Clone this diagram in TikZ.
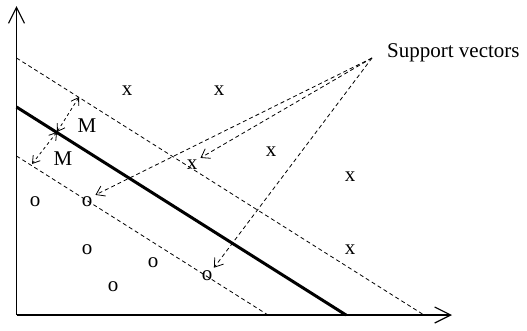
\documentclass[tikz,border=0pt]{standalone}
\usepackage{fontspec}
\setmainfont{Liberation Serif}
\usetikzlibrary{arrows.meta}

\begin{document}
\begin{tikzpicture}[
    x=1pt, y=-1pt,
    font=\fontsize{21}{25}\selectfont,
    axis/.style={line width=1.2pt, -{Straight Barb[length=16pt,width=16pt]}},
    hyper/.style={line width=3pt},
    margin/.style={line width=0.8pt, dash pattern=on 4pt off 3pt},
    gap/.style={line width=0.8pt, dash pattern=on 3pt off 3pt, {Straight Barb[length=7pt,width=9pt]}-{Straight Barb[length=7pt,width=9pt]}},
    pointer/.style={line width=0.8pt, dash pattern=on 4pt off 3pt, -{Straight Barb[length=8pt,width=11pt]}},
    sample/.style={inner sep=3pt}
]
\useasboundingbox (0,0) rectangle (527,330);

\coordinate (origin) at (16.5,315);
\coordinate (ytip) at (16.5,6);
\coordinate (xtip) at (452,315);
\draw [axis] (origin) -- (ytip);
\draw [axis] (origin) -- (xtip);

\coordinate (hyperA) at (16.5,107);
\coordinate (hyperB) at (346,315);
\coordinate (upperA) at (16.5,58);
\coordinate (upperB) at (424,315);
\coordinate (lowerA) at (16.5,156);
\coordinate (lowerB) at (268,315);
\draw [hyper] (hyperA) -- (hyperB);
\draw [margin] (upperA) -- (upperB);
\draw [margin] (lowerA) -- (lowerB);

\coordinate (mmid) at (57,132);
\coordinate (mtop) at (79,97);
\coordinate (mbot) at (32,164);
\draw [gap] (mmid) -- (mtop);
\draw [gap] (mmid) -- (mbot);
\node (mup) at (87,126) {M};
\node (mlow) at (63,159) {M};

\node (xa) [sample] at (127,91) {x};
\node (xb) [sample] at (219,91) {x};
\node (xc) [sample] at (192,165) {x};
\node (xd) [sample] at (271,152) {x};
\node (xe) [sample] at (350,177) {x};
\node (xf) [sample] at (350,250) {x};
\node (oa) [sample] at (35,202) {o};
\node (ob) [sample] at (87,202) {o};
\node (oc) [sample] at (87,250) {o};
\node (od) [sample] at (153,263) {o};
\node (oe) [sample] at (113,287) {o};
\node (of) [sample] at (207,276) {o};

\node (svlab) [anchor=base west, inner sep=0pt] at (387,57) {Support vectors};
\coordinate (svtail) at (372,58);
\draw [pointer] (svtail) -- (xc.40);
\draw [pointer] (svtail) -- (ob.40);
\draw [pointer] (svtail) -- (of.50);

\end{tikzpicture}
\end{document}
